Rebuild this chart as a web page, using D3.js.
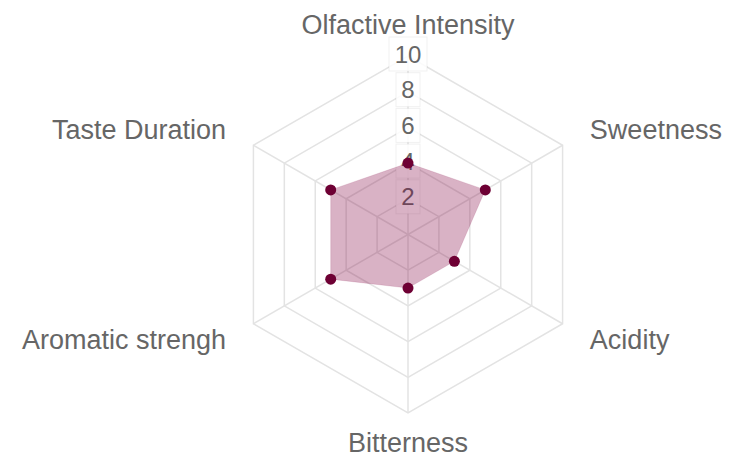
<!DOCTYPE html>
<html>
<head>
<meta charset="utf-8">
<script src="https://cdn.jsdelivr.net/npm/d3@7"></script>
<style>
  html, body { margin: 0; padding: 0; background: #fff; }
  svg { display: block; }
</style>
</head>
<body>
<div id="chart"></div>
<script>
// radar chart data
const labels = ["Olfactive Intensity", "Sweetness", "Acidity", "Bitterness", "Aromatic strengh", "Taste Duration"];
const values = [4, 5, 3, 3, 5, 5];
const ticks = [2, 4, 6, 8, 10];

const width = 729, height = 458;
const cx = 408, cy = 234.5, R = 178.5;

const svg = d3.select("#chart")
  .append("svg")
    .attr("width", width)
    .attr("height", height);

const r = d3.scaleLinear().domain([0, 10]).range([0, R]);
const angle = d3.scaleLinear().domain([0, labels.length]).range([-Math.PI / 2, 1.5 * Math.PI]);

const pt = (i, v) => [cx + r(v) * Math.cos(angle(i)), cy + r(v) * Math.sin(angle(i))];

const grid = svg.append("g");

// rings
grid.selectAll("polygon")
  .data(ticks)
  .join("polygon")
    .attr("points", t => labels.map((_, i) => pt(i, t).join(",")).join(" "))
    .attr("fill", "none")
    .attr("stroke", "#e3e3e3")
    .attr("stroke-width", 1.5);

// angle lines
grid.selectAll("line")
  .data(labels)
  .join("line")
    .attr("x1", cx).attr("y1", cy)
    .attr("x2", (d, i) => pt(i, 10)[0])
    .attr("y2", (d, i) => pt(i, 10)[1])
    .attr("stroke", "#e3e3e3")
    .attr("stroke-width", 1.5);

// tick labels with backdrop
const tickG = svg.append("g")
  .selectAll("g")
  .data(ticks)
  .join("g")
    .attr("transform", t => `translate(${cx},${cy - r(t) - 2})`);

tickG.append("rect")
  .attr("x", t => t >= 10 ? -19 : -12)
  .attr("width", t => t >= 10 ? 38 : 24)
  .attr("y", -17)
  .attr("height", 34)
  .attr("fill", "rgba(255,255,255,0.85)")
  .attr("stroke", "rgba(0,0,0,0.06)");

tickG.append("text")
  .attr("text-anchor", "middle")
  .attr("y", 8.5)
  .attr("font-family", "'Liberation Sans', Arial, sans-serif")
  .attr("font-size", 24)
  .attr("fill", "#666")
  .text(t => t);

// data area
svg.append("polygon")
  .attr("points", values.map((v, i) => pt(i, v).join(",")).join(" "))
  .attr("fill", "rgba(128,0,64,0.3)")
  .attr("stroke", "rgba(128,0,64,0.12)")
  .attr("stroke-width", 1);

svg.append("g")
  .selectAll("circle")
  .data(values)
  .join("circle")
    .attr("cx", (v, i) => pt(i, v)[0])
    .attr("cy", (v, i) => pt(i, v)[1])
    .attr("r", 5.5)
    .attr("fill", "#6e0034");

// point labels
svg.append("g")
  .selectAll("text")
  .data(labels)
  .join("text")
    .attr("x", (d, i) => cx + (R + 31.5) * Math.cos(angle(i)))
    .attr("y", (d, i) => {
      const s = Math.sin(angle(i));
      const y = cy + (R + 31.5) * s + 9.5;
      return s > 0.99 ? y - 2.5 : y;
    })
    .attr("text-anchor", (d, i) => {
      const c = Math.cos(angle(i));
      return Math.abs(c) < 0.01 ? "middle" : (c > 0 ? "start" : "end");
    })
    .attr("font-family", "'Liberation Sans', Arial, sans-serif")
    .attr("font-size", 27)
    .attr("fill", "#666")
    .text(d => d);
</script>
</body>
</html>
